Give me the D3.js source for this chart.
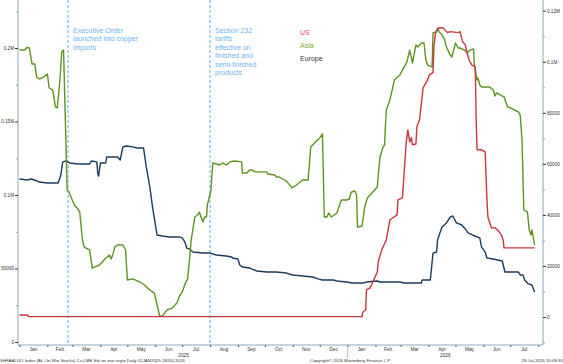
<!DOCTYPE html>
<html lang="en">
<head>
<meta charset="UTF-8">
<title>Aluminium on-warrant stocks</title>
<script src="https://d3js.org/d3.v7.min.js"></script>
<style>
  body { margin: 0; background: #fff; }
  svg { display: block; font-family: "Liberation Sans", Arial, sans-serif; }
</style>
</head>
<body>
<svg></svg>
<script>
  // values (date, tonnes)
  // Asia + Europe use the left axis, US uses the right axis
  const asia = [
    ['2025-01-01', 198600], ['2025-01-07', 198600], ['2025-01-09', 200350], ['2025-01-12', 200000],
    ['2025-01-15', 189100], ['2025-01-18', 189100], ['2025-01-20', 180300], ['2025-01-23', 178900],
    ['2025-01-28', 180300], ['2025-02-01', 182300], ['2025-02-03', 172800], ['2025-02-07', 171400],
    ['2025-02-10', 159900], ['2025-02-12', 159200], ['2025-02-15', 178200], ['2025-02-17', 197300],
    ['2025-02-19', 198600], ['2025-02-21', 151000], ['2025-02-23', 103400], ['2025-02-25', 102000],
    ['2025-03-03', 93200], ['2025-03-06', 91200], ['2025-03-09', 88400], ['2025-03-12', 69400],
    ['2025-03-14', 64600], ['2025-03-20', 62600], ['2025-03-23', 50300], ['2025-03-25', 51000],
    ['2025-03-31', 52400], ['2025-04-06', 56500], ['2025-04-11', 59200], ['2025-04-13', 56500],
    ['2025-04-15', 59900], ['2025-04-17', 64600], ['2025-04-20', 66000], ['2025-04-26', 66000],
    ['2025-04-29', 62600], ['2025-05-01', 42200], ['2025-05-07', 42900], ['2025-05-15', 40800],
    ['2025-05-20', 38800], ['2025-05-26', 35400], ['2025-05-31', 33300], ['2025-06-03', 25200],
    ['2025-06-06', 17700], ['2025-06-09', 17700], ['2025-06-14', 21800], ['2025-06-20', 23100],
    ['2025-06-25', 26500], ['2025-06-28', 31300], ['2025-07-01', 34000], ['2025-07-05', 40800],
    ['2025-07-07', 42900], ['2025-07-09', 55800], ['2025-07-11', 69400], ['2025-07-15', 85000],
    ['2025-07-18', 86400], ['2025-07-20', 88400], ['2025-07-24', 81600], ['2025-07-26', 85000],
    ['2025-07-28', 85000], ['2025-07-29', 93200], ['2025-08-02', 103400], ['2025-08-04', 121800],
    ['2025-08-12', 120400], ['2025-08-15', 121800], ['2025-08-19', 120400], ['2025-08-23', 122500],
    ['2025-08-28', 123100], ['2025-09-05', 122500], ['2025-09-06', 115000], ['2025-09-11', 115000],
    ['2025-09-14', 117000], ['2025-09-17', 117000], ['2025-09-20', 115700], ['2025-10-03', 115700],
    ['2025-10-04', 114300], ['2025-10-12', 113600], ['2025-10-14', 112200], ['2025-10-17', 112200],
    ['2025-10-23', 110200], ['2025-10-26', 108800], ['2025-10-31', 104800], ['2025-11-05', 106800],
    ['2025-11-12', 110200], ['2025-11-18', 110200], ['2025-11-21', 132700], ['2025-11-25', 135400],
    ['2025-12-01', 138800], ['2025-12-04', 141500], ['2025-12-06', 85000], ['2025-12-09', 85000],
    ['2025-12-11', 87800], ['2025-12-14', 85000], ['2025-12-20', 87800], ['2025-12-25', 96600],
    ['2025-12-31', 96600], ['2026-01-03', 97300], ['2026-01-05', 102000], ['2026-01-09', 102700],
    ['2026-01-11', 100000], ['2026-01-12', 78200], ['2026-01-17', 78900], ['2026-01-20', 91800],
    ['2026-01-23', 98000], ['2026-01-29', 102000], ['2026-02-03', 105400], ['2026-02-06', 125900],
    ['2026-02-09', 132000], ['2026-02-11', 134000], ['2026-02-13', 157800], ['2026-02-17', 164600],
    ['2026-02-22', 178200], ['2026-02-28', 181600], ['2026-03-03', 185000], ['2026-03-08', 190500],
    ['2026-03-11', 198600], ['2026-03-13', 193200], ['2026-03-14', 189800], ['2026-03-18', 202000],
    ['2026-03-20', 200700], ['2026-03-24', 203400], ['2026-03-27', 203400], ['2026-03-29', 191800],
    ['2026-03-31', 188400], ['2026-04-05', 187100], ['2026-04-06', 210200], ['2026-04-10', 210900],
    ['2026-04-11', 213600], ['2026-04-13', 210900], ['2026-04-16', 208900], ['2026-04-19', 205400],
    ['2026-04-21', 200700], ['2026-04-25', 195200], ['2026-04-27', 193900], ['2026-04-29', 198600],
    ['2026-05-01', 203400], ['2026-05-04', 200000], ['2026-05-06', 200000], ['2026-05-11', 198600],
    ['2026-05-14', 196600], ['2026-05-17', 198600], ['2026-05-21', 199300], ['2026-05-22', 188400],
    ['2026-05-25', 178200], ['2026-05-26', 179600], ['2026-05-28', 174800], ['2026-05-30', 173500],
    ['2026-06-08', 173500], ['2026-06-12', 171400], ['2026-06-14', 167400], ['2026-06-16', 169400],
    ['2026-06-20', 168000], ['2026-06-24', 166700], ['2026-06-28', 159900], ['2026-07-01', 159200],
    ['2026-07-06', 157800], ['2026-07-10', 156500], ['2026-07-12', 154400], ['2026-07-14', 137400],
    ['2026-07-16', 89800], ['2026-07-20', 88400], ['2026-07-22', 76200], ['2026-07-24', 72800],
    ['2026-07-25', 76200], ['2026-07-27', 69400], ['2026-07-28', 66000]
  ]

  const europe = [
    ['2025-01-01', 110900], ['2025-01-10', 110200], ['2025-01-14', 110900], ['2025-01-21', 109500],
    ['2025-01-23', 108800], ['2025-02-01', 108200], ['2025-02-13', 108200], ['2025-02-16', 113600],
    ['2025-02-18', 122500], ['2025-02-22', 123100], ['2025-02-26', 121800], ['2025-03-07', 121100],
    ['2025-03-20', 121100], ['2025-03-22', 123100], ['2025-03-28', 122500], ['2025-03-29', 115000],
    ['2025-03-30', 112900], ['2025-04-01', 121800], ['2025-04-07', 121800], ['2025-04-08', 125900],
    ['2025-04-20', 125900], ['2025-04-23', 123800], ['2025-04-26', 132700], ['2025-04-30', 133300],
    ['2025-05-07', 132700], ['2025-05-12', 132000], ['2025-05-19', 132000], ['2025-05-22', 119100],
    ['2025-05-26', 105400], ['2025-05-29', 91800], ['2025-06-03', 72800], ['2025-06-09', 72100],
    ['2025-06-17', 71400], ['2025-06-28', 71400], ['2025-07-01', 70800], ['2025-07-04', 68000],
    ['2025-07-06', 63900], ['2025-07-09', 63300], ['2025-07-13', 61200], ['2025-07-24', 60500],
    ['2025-08-01', 60500], ['2025-08-08', 59200], ['2025-08-19', 58500], ['2025-08-25', 57800],
    ['2025-08-26', 57100], ['2025-09-01', 56500], ['2025-09-03', 52400], ['2025-09-06', 51000],
    ['2025-09-14', 50300], ['2025-09-22', 48300], ['2025-10-03', 47600], ['2025-10-14', 47600],
    ['2025-10-25', 46900], ['2025-11-01', 45600], ['2025-11-12', 44900], ['2025-11-23', 44200],
    ['2025-11-29', 42900], ['2025-12-04', 42200], ['2025-12-16', 42200], ['2025-12-20', 41500],
    ['2025-12-31', 40800], ['2026-01-06', 40100], ['2026-01-18', 40100], ['2026-01-22', 40800],
    ['2026-02-03', 41500], ['2026-02-06', 40800], ['2026-02-28', 40800], ['2026-03-05', 40100],
    ['2026-03-24', 40100], ['2026-03-25', 42200], ['2026-04-03', 42200], ['2026-04-06', 60500],
    ['2026-04-10', 61200], ['2026-04-11', 69400], ['2026-04-16', 78200], ['2026-04-21', 81000],
    ['2026-04-25', 85000], ['2026-04-28', 85700], ['2026-05-02', 81000], ['2026-05-08', 79600],
    ['2026-05-11', 77600], ['2026-05-15', 74200], ['2026-05-20', 72800], ['2026-05-28', 70800],
    ['2026-05-30', 64600], ['2026-06-03', 61200], ['2026-06-05', 57100], ['2026-06-12', 56500],
    ['2026-06-22', 55100], ['2026-06-25', 47600], ['2026-07-10', 47600], ['2026-07-12', 45600],
    ['2026-07-15', 45600], ['2026-07-17', 42200], ['2026-07-21', 39500], ['2026-07-25', 38800],
    ['2026-07-28', 34000]
  ]

  const us = [
    ['2025-01-01', 800], ['2025-01-10', 800], ['2025-01-11', 150], ['2026-01-17', 150],
    ['2026-01-18', 1960], ['2026-01-21', 2750], ['2026-01-22', 10600], ['2026-01-26', 11400],
    ['2026-01-29', 13700], ['2026-02-03', 17600], ['2026-02-04', 21600], ['2026-02-08', 26300],
    ['2026-02-13', 30200], ['2026-02-17', 38000], ['2026-02-20', 38800], ['2026-02-25', 40000],
    ['2026-02-26', 45900], ['2026-03-03', 46700], ['2026-03-07', 67500], ['2026-03-09', 73300],
    ['2026-03-11', 68600], ['2026-03-13', 70200], ['2026-03-14', 67500], ['2026-03-18', 67800],
    ['2026-03-19', 74500], ['2026-03-22', 77300], ['2026-03-26', 89800], ['2026-03-31', 92900],
    ['2026-04-02', 94900], ['2026-04-06', 95700], ['2026-04-07', 105900], ['2026-04-09', 111800],
    ['2026-04-11', 112600], ['2026-04-13', 113300], ['2026-04-17', 113300], ['2026-04-19', 112600],
    ['2026-04-22', 111400], ['2026-04-25', 111800], ['2026-05-04', 111400], ['2026-05-06', 111800],
    ['2026-05-09', 107800], ['2026-05-12', 106700], ['2026-05-13', 104700], ['2026-05-16', 100800],
    ['2026-05-19', 98800], ['2026-05-23', 98000], ['2026-05-24', 77300], ['2026-05-25', 65500],
    ['2026-05-30', 65500], ['2026-06-03', 64700], ['2026-06-05', 45900], ['2026-06-06', 39200],
    ['2026-06-10', 34900], ['2026-06-14', 34900], ['2026-06-17', 34100], ['2026-06-21', 32200],
    ['2026-06-23', 30200], ['2026-06-24', 27100], ['2026-07-28', 27100]
  ]

  const leftTicks = [0, 50000, 100000, 150000, 200000]
  const leftTickLabels = ['0', '50000', '0.1M', '0.15M', '0.2M']
  const rightTicks = [0, 20000, 40000, 60000, 80000, 100000, 120000]
  const rightTickLabels = ['0', '20000', '40000', '60000', '80000', '0.1M', '0.12M']
  const monthNames = ['Jan', 'Feb', 'Mar', 'Apr', 'May', 'Jun', 'Jul', 'Aug', 'Sep', 'Oct', 'Nov', 'Dec']

  const events = [
    { date: '2025-02-24', lines: ['Executive Order', 'launched into copper', 'imports'] },
    { date: '2025-08-01', lines: ['Section 232', 'tariffs', 'effective on', 'finished and', 'semi-finished', 'products'] }
  ]

  const seriesNames = ['US', 'Asia', 'Europe']

  const width = 563
  const height = 364
  const parse = d3.timeParse('%Y-%m-%d')

  const colors = { US: '#c8363f', Asia: '#5e9320', Europe: '#1d3b5c' }
  const legendColors = { US: '#e2474f', Asia: '#79a83c', Europe: '#3b3b3b' }
  const noteColor = '#6db4f4'
  const axisColor = '#8fa6bd'

  const svg = d3.select('svg').attr('width', width).attr('height', height)
  svg.append('rect').attr('width', width).attr('height', height).attr('fill', '#fff')

  // plot frame
  const plotLeft = 18, plotRight = 543, plotBottom = 345

  const x = d3.scaleTime()
    .domain([parse('2025-01-01'), parse('2026-07-28')])
    .range([19.5, 534.6])
  const yL = d3.scaleLinear().domain([0, 200000]).range([342, 48])
  const yR = d3.scaleLinear().domain([0, 120000]).range([317, 10.7])

  // event lines (dashed)
  events.forEach(ev => {
    const ex = x(parse(ev.date))
    svg.append('line')
      .attr('x1', ex).attr('x2', ex).attr('y1', 0).attr('y2', plotBottom)
      .attr('stroke', noteColor).attr('stroke-width', 1.1)
      .attr('stroke-dasharray', '3,2')
    svg.append('text')
      .attr('x', ex + 5).attr('y', 33)
      .attr('fill', noteColor).attr('font-size', 7)
      .selectAll('tspan')
      .data(ev.lines)
      .join('tspan')
      .attr('x', ex + 5)
      .attr('dy', (d, i) => i === 0 ? 0 : 8.4)
      .text(d => d)
  })

  // series
  const makeLine = yScale => d3.line()
    .x(d => x(parse(d[0])))
    .y(d => yScale(d[1]))

  const plotG = svg.append('g').attr('fill', 'none').attr('stroke-width', 1.4).attr('stroke-linejoin', 'round')
  plotG.append('path').datum(europe).attr('stroke', colors.Europe).attr('d', makeLine(yL))
  plotG.append('path').datum(asia).attr('stroke', colors.Asia).attr('d', makeLine(yL))
  plotG.append('path').datum(us).attr('stroke', colors.US).attr('d', makeLine(yR))

  // left axis
  svg.append('line')
    .attr('x1', plotLeft).attr('x2', plotLeft).attr('y1', 0).attr('y2', plotBottom)
    .attr('stroke', axisColor).attr('stroke-width', 1)
  const leftAxis = svg.append('g')
    .attr('transform', `translate(${plotLeft},0)`)
    .call(d3.axisLeft(yL).tickValues(leftTicks).tickSize(3).tickPadding(1)
      .tickFormat((d, i) => leftTickLabels[i]))
  leftAxis.select('.domain').remove()
  leftAxis.selectAll('.tick line').attr('stroke', '#333')
  leftAxis.selectAll('text').attr('font-size', 4.6).attr('fill', '#333').attr('font-family', null)
  svg.append('g')
    .attr('transform', `translate(${plotLeft},0)`)
    .call(d3.axisLeft(yL).tickValues(d3.range(25000, 250000, 50000)).tickSize(2).tickFormat(''))
    .call(g => g.select('.domain').remove())
    .selectAll('.tick line').attr('stroke', axisColor)

  // right axis
  svg.append('line')
    .attr('x1', plotRight).attr('x2', plotRight).attr('y1', 0).attr('y2', plotBottom)
    .attr('stroke', axisColor).attr('stroke-width', 1)
  const rightAxis = svg.append('g')
    .attr('transform', `translate(${plotRight},0)`)
    .call(d3.axisRight(yR).tickValues(rightTicks).tickSize(3).tickPadding(1)
      .tickFormat((d, i) => rightTickLabels[i]))
  rightAxis.select('.domain').remove()
  rightAxis.selectAll('.tick line').attr('stroke', '#333')
  rightAxis.selectAll('text').attr('font-size', 4.6).attr('fill', '#333').attr('font-family', null)
  svg.append('g')
    .attr('transform', `translate(${plotRight},0)`)
    .call(d3.axisRight(yR).tickValues(d3.range(-10000, 130000, 20000)).tickSize(2).tickFormat(''))
    .call(g => g.select('.domain').remove())
    .selectAll('.tick line').attr('stroke', axisColor)

  // bottom axis
  svg.append('line')
    .attr('x1', plotLeft).attr('x2', plotRight).attr('y1', plotBottom).attr('y2', plotBottom)
    .attr('stroke', axisColor).attr('stroke-width', 1)
  const monthStarts = d3.timeMonths(parse('2025-01-01'), parse('2026-08-02'))
  const bottomAxis = svg.append('g')
    .attr('transform', `translate(0,${plotBottom})`)
    .call(d3.axisBottom(x).tickValues(monthStarts).tickSize(2).tickFormat(''))
  bottomAxis.select('.domain').remove()
  bottomAxis.selectAll('.tick line').attr('stroke', '#555')

  // month labels in the middle of each month
  const monthMids = monthStarts.slice(0, -1).map((m, i) => new Date((+m + +monthStarts[i + 1]) / 2))
  svg.append('g')
    .selectAll('text')
    .data(monthMids)
    .join('text')
    .attr('x', d => x(d))
    .attr('y', 350.5)
    .attr('text-anchor', 'middle')
    .attr('font-size', 4.8)
    .attr('fill', '#333')
    .text(d => monthNames[d.getMonth()])

  // year labels + divider
  const y2026 = parse('2026-01-01')
  svg.append('line')
    .attr('x1', x(y2026)).attr('x2', x(y2026)).attr('y1', plotBottom).attr('y2', 358)
    .attr('stroke', '#999').attr('stroke-width', 0.6)
  const yearLabels = [
    { text: '2025', at: (x(parse('2025-01-01')) + x(y2026)) / 2 },
    { text: '2026', at: (x(y2026) + plotRight) / 2 }
  ]
  svg.append('g')
    .selectAll('text')
    .data(yearLabels)
    .join('text')
    .attr('x', d => d.at)
    .attr('y', 356.5)
    .attr('text-anchor', 'middle')
    .attr('font-size', 4.8)
    .attr('fill', '#333')
    .text(d => d.text)

  // legend
  svg.append('g')
    .selectAll('text')
    .data(seriesNames)
    .join('text')
    .attr('x', 300)
    .attr('y', (d, i) => 34.5 + i * 13)
    .attr('font-size', 7)
    .attr('fill', d => legendColors[d])
    .text(d => d)

  // footer
  const footer = svg.append('g').attr('font-size', 4.4).attr('fill', '#333')
  footer.append('text').attr('x', 0).attr('y', 362)
    .text('SHFAALUO Index (AL On War Stocks) Cu LME Stk on war rngto Daily 01JAN2025-28JUL2026')
  footer.append('text').attr('x', 310).attr('y', 362)
    .text('Copyright© 2026 Bloomberg Finance L.P.')
  footer.append('text').attr('x', 563).attr('y', 362).attr('text-anchor', 'end')
    .text('28-Jul-2026 10:48:34')
</script>
</body>
</html>
